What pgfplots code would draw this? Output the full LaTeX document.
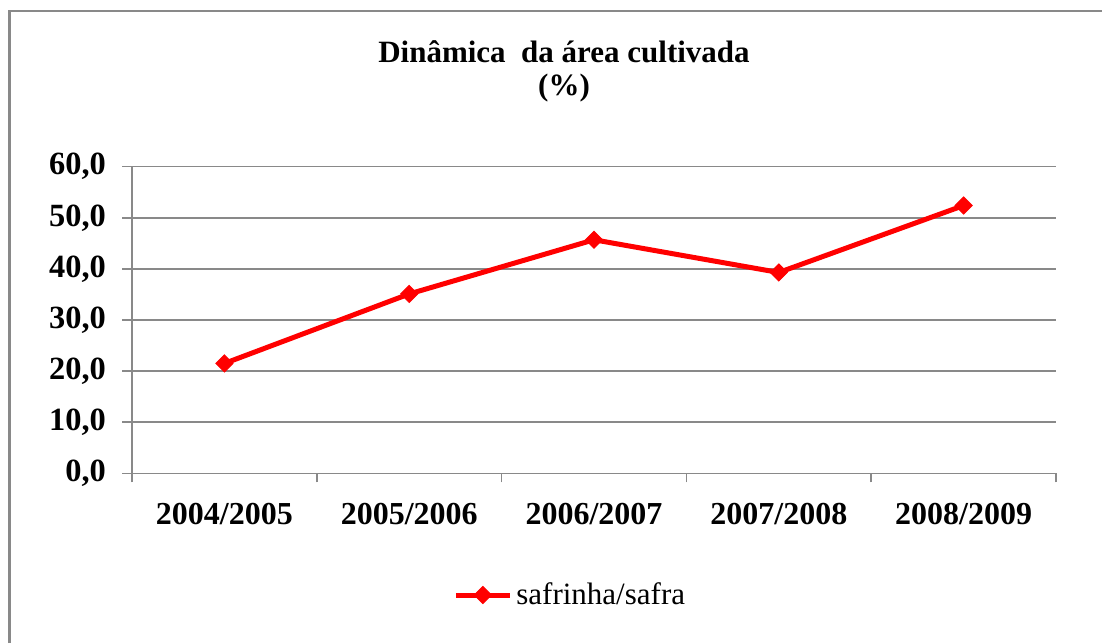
\documentclass[border=0pt]{standalone}
\usepackage{fontspec}
\setmainfont{Liberation Serif}
\usepackage{pgfplots}
\pgfplotsset{compat=1.18}
\definecolor{gridgray}{HTML}{898989}
\begin{document}
\begin{tikzpicture}[font=\fontsize{15.5}{18}\selectfont]
\path[use as bounding box] (0,0) rectangle (551pt,321.5pt);
\draw[gridgray, line width=1.2pt] (4.65pt,0) -- (4.65pt,316pt) -- (552pt,316pt);
\node[font=\fontsize{15.5}{18}\selectfont\bfseries] at (282pt,295.5pt) {Dinâmica\ \ da área cultivada};
\node[font=\fontsize{15.5}{18}\selectfont\bfseries] at (282pt,277.5pt) {(\%)};
\begin{axis}[
  at={(66pt,84.85pt)}, anchor=south west,
  scale only axis, width=462pt, height=153.3pt,
  xmin=-0.5, xmax=4.5, ymin=0, ymax=60,
  axis x line*=bottom, axis y line*=left,
  axis line style={gridgray, line width=0.75pt, -},
  xtick={0,...,4},
  xticklabels={2004/2005,2005/2006,2006/2007,2007/2008,2008/2009},
  minor xtick={-0.5,0.5,...,4.5},
  major x tick style={draw=none},
  minor x tick style={gridgray, line width=0.75pt},
  y tick style={gridgray, line width=0.75pt},
  tick align=outside,
  major tick length=5pt, minor tick length=4.5pt,
  ytick={0,10,...,60},
  ymajorgrids, grid style={gridgray, line width=0.75pt},
  yticklabel style={font=\fontsize{16.2}{18}\selectfont\bfseries, xshift=-4.5pt, /pgf/number format/.cd, fixed, fixed zerofill, precision=1, use comma, assume math mode=true},
  xticklabel style={font=\fontsize{16}{18}\selectfont\bfseries, yshift=-6.5pt},
  legend style={at={(0.3474,-0.397)}, anchor=west, draw=none, fill=none, inner sep=0pt, font=\fontsize{15.5}{18}\selectfont},
  legend cell align=left,
  legend image code/.code={\draw[#1, mark repeat=2, mark phase=2] plot coordinates {(0pt,0pt) (13.5pt,0pt) (27pt,0pt)};},
]
\addplot[red, line width=2.5pt, mark=square*, mark size=3pt, mark options={solid, rotate=45, line width=0.5pt}]
  coordinates {(0,21.5) (1,35.1) (2,45.7) (3,39.3) (4,52.4)};
\addlegendentry{safrinha/safra}
\end{axis}
\end{tikzpicture}
\end{document}
